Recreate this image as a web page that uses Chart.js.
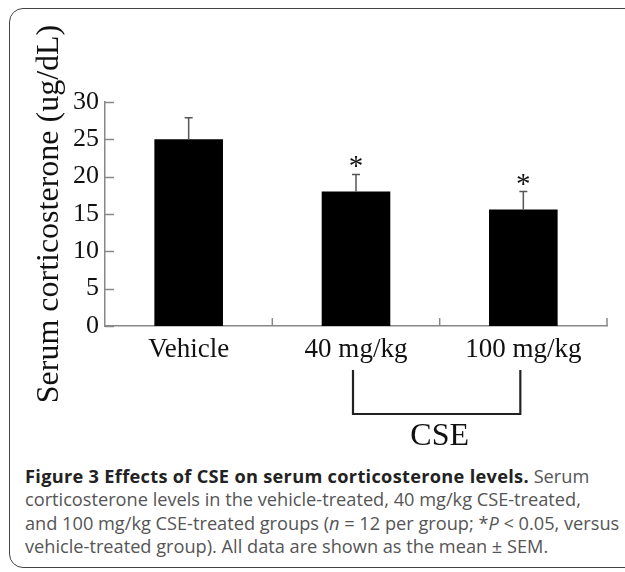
<!DOCTYPE html>
<html>
<head>
<meta charset="utf-8">
<script src="https://cdn.jsdelivr.net/npm/chart.js@4.4.1/dist/chart.umd.min.js"></script>
<style>
  body { margin: 0; background: #fff; width: 625px; height: 572px; overflow: hidden; position: relative; }
  #frame { position: absolute; left: 9px; top: 8px; width: 680px; height: 558px; border: 1.5px solid #444; border-radius: 14px; }
  #wrap { position: absolute; left: 0; top: 0; width: 625px; height: 460px; }
  #caption { position: absolute; left: 25px; top: 465px; width: 610px; white-space: nowrap; font-family: "Open Sans", sans-serif; font-size: 18.2px; line-height: 23.3px; color: #555; }
  #caption b { color: #222; letter-spacing: 0.3px; }
</style>
</head>
<body>
<div id="frame"></div>
<div id="wrap"><canvas id="barChart"></canvas></div>
<div id="caption"><b>Figure 3 Effects of CSE on serum corticosterone levels.</b> Serum<br>corticosterone levels in the vehicle-treated, 40 mg/kg CSE-treated,<br>and 100 mg/kg CSE-treated groups (<i>n</i> = 12 per group; *<i>P</i> &lt; 0.05, versus<br>vehicle-treated group). All data are shown as the mean ± SEM.</div>
<script>
const groups = ["Vehicle", "40 mg/kg", "100 mg/kg"];
const meanValues = [25, 18, 15.6];
const semValues = [2.9, 2.3, 2.4];
const significant = [false, true, true];
const yTicks = [0, 5, 10, 15, 20, 25, 30];

const serif = '"Liberation Serif", "Times New Roman", serif';

//Error bars, asterisks, ticks and the CSE bracket
const extras = {
  id: "extras",
  afterDatasetsDraw(chart) {
    const { ctx, chartArea, scales } = chart;
    const x = scales.x, y = scales.y;
    ctx.save();

    // inward ticks on y axis
    ctx.strokeStyle = "#888";
    ctx.lineWidth = 1.5;
    yTicks.forEach(function (v) {
      const py = Math.round(y.getPixelForValue(v)) + 0.5;
      ctx.beginPath();
      ctx.moveTo(chartArea.left, py);
      ctx.lineTo(chartArea.left + 9, py);
      ctx.stroke();
    });

    // category boundary ticks on x axis
    const half = (x.getPixelForValue(1) - x.getPixelForValue(0)) / 2;
    groups.forEach(function (g, i) {
      const px = x.getPixelForValue(i) + half;
      ctx.beginPath();
      ctx.moveTo(px, chartArea.bottom);
      ctx.lineTo(px, chartArea.bottom - 8);
      ctx.stroke();
    });

    // error bars (upper only)
    ctx.strokeStyle = "#555";
    const meta = chart.getDatasetMeta(0);
    meta.data.forEach(function (bar, i) {
      const top = y.getPixelForValue(meanValues[i]);
      const cap = y.getPixelForValue(meanValues[i] + semValues[i]);
      ctx.beginPath();
      ctx.moveTo(bar.x, top);
      ctx.lineTo(bar.x, cap);
      ctx.moveTo(bar.x - 4, cap);
      ctx.lineTo(bar.x + 4, cap);
      ctx.stroke();
      if (significant[i]) {
        ctx.fillStyle = "#111";
        ctx.font = "29px " + serif;
        ctx.textAlign = "center";
        ctx.textBaseline = "alphabetic";
        ctx.fillText("*", bar.x, cap + 1);
      }
    });
    ctx.restore();
  },
  afterDraw(chart) {
    const { ctx, chartArea, scales } = chart;
    const x1 = scales.x.getPixelForValue(1) - 3;
    const x2 = scales.x.getPixelForValue(2) - 3;
    const top = chartArea.bottom + 44;
    const bottom = chartArea.bottom + 88;
    ctx.save();
    ctx.strokeStyle = "#222";
    ctx.lineWidth = 2.2;
    ctx.beginPath();
    ctx.moveTo(x1, top);
    ctx.lineTo(x1, bottom);
    ctx.lineTo(x2, bottom);
    ctx.lineTo(x2, top);
    ctx.stroke();
    ctx.fillStyle = "#111";
    ctx.font = "32px " + serif;
    ctx.textAlign = "center";
    ctx.textBaseline = "alphabetic";
    ctx.fillText("CSE", (x1 + x2) / 2 + 3, bottom + 31);
    ctx.restore();
  }
};

document.addEventListener("DOMContentLoaded", function () {
  const ctx = document.getElementById("barChart").getContext("2d");

  new Chart(ctx, {
    type: "bar",
    data: {
      labels: groups,
      datasets: [
        {
          label: "Serum corticosterone",
          data: meanValues,
          backgroundColor: "#000",
          borderWidth: 0,
          categoryPercentage: 1,
          barPercentage: 0.41,
        },
      ],
    },
    options: {
      responsive: true,
      maintainAspectRatio: false,
      animation: false,
      layout: { padding: { left: 0, top: 102, right: 18, bottom: 0 } },
      plugins: { legend: { display: false }, tooltip: { enabled: false } },
      scales: {
        x: {
          grid: { display: false, drawTicks: false },
          border: { display: true, color: "#888", width: 1.5 },
          ticks: {
            color: "#111",
            padding: 8,
            font: { family: serif, size: 27 },
          },
          afterFit: function (scale) { scale.height = 134; },
        },
        y: {
          min: 0,
          max: 30,
          grid: { display: false, drawTicks: false },
          border: { display: true, color: "#888", width: 1.5 },
          afterBuildTicks: function (scale) {
            scale.ticks = yTicks.map(function (v) { return { value: v }; });
          },
          ticks: {
            color: "#111",
            padding: 6,
            font: { family: serif, size: 26 },
          },
          title: {
            display: true,
            text: "Serum corticosterone (ug/dL)",
            color: "#111",
            padding: { top: 30, bottom: 0 },
            font: { family: serif, size: 32 },
          },
          afterFit: function (scale) { scale.width = 105; },
        },
      },
    },
    plugins: [extras],
  });
});
</script>
</body>
</html>
